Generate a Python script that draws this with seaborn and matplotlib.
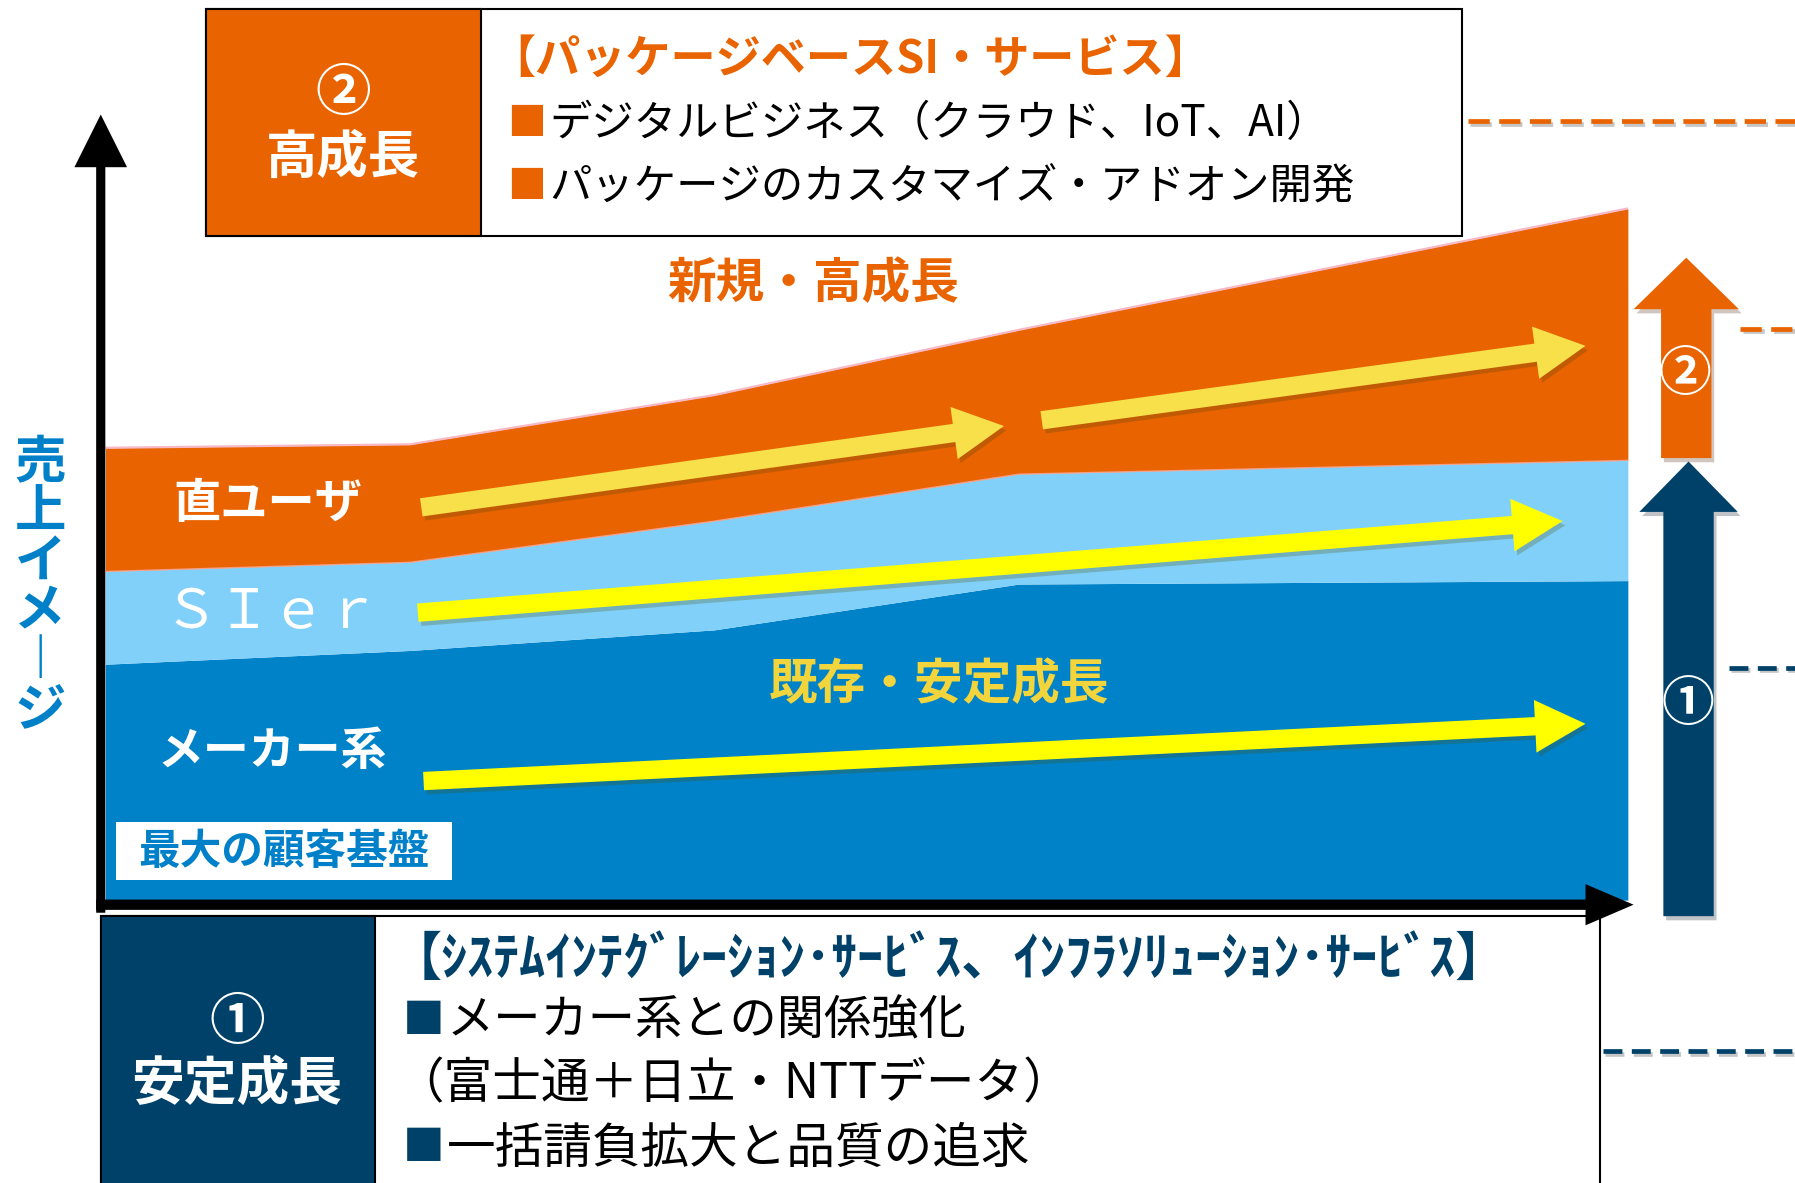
import numpy as np
import matplotlib
matplotlib.use("Agg")
import matplotlib.pyplot as plt
import matplotlib.patheffects as pe
from matplotlib.patches import Polygon, Rectangle
import seaborn as sns

# ---- data -------------------------------------------------------------
# phases along the horizontal (time) axis
periods = [0, 2, 4, 6, 10]
# sales image per channel (arbitrary units), stacked from the bottom up
maker_sales = [206, 218, 236, 276, 279]
sier_sales = [81, 77, 95, 96, 105]
direct_sales = [108, 103, 110, 126, 220]

segment_labels = ["メーカー系", "ＳＩｅｒ", "直ユーザ"]
y_axis_label = "売上イメージ"
new_growth_label = "新規・高成長"
stable_growth_label = "既存・安定成長"
customer_base_label = "最大の顧客基盤"

high_growth_mark = ["②", "高成長"]
high_growth_title = "【パッケージベースSI・サービス】"
high_growth_items = ["デジタルビジネス（クラウド、IoT、AI）",
                     "パッケージのカスタマイズ・アドオン開発"]

stable_mark = ["①", "安定成長"]
stable_title = "【ｼｽﾃﾑｲﾝﾃｸﾞﾚｰｼｮﾝ･ｻｰﾋﾞｽ、ｲﾝﾌﾗｿﾘｭｰｼｮﾝ･ｻｰﾋﾞｽ】"
stable_items = ["■", "メーカー系との関係強化", "（富士通＋日立・NTTデータ）",
                "■", "一括請負拡大と品質の追求"]

# ---- style ------------------------------------------------------------
sns.set_theme(style="white")
plt.rcParams["font.family"] = ["Noto Sans CJK JP", "DejaVu Sans"]

ORANGE = "#E96300"
LIGHT_BLUE = "#80D0FA"
BLUE = "#0082C8"
NAVY = "#00416A"
PALE_YELLOW = "#F7E04A"
YELLOW = "#FFFF00"
GOLD = "#F2D43C"
PINK = "#F7B9C6"
TEXT_BLUE = "#0080C8"

W, H = 1568, 1033
fig = plt.figure(figsize=(17.95, 11.83), dpi=100)

# ---- stacked area -----------------------------------------------------
x_left, x_right, y_base, y_top = 92, 1422, 786, 100
ax = fig.add_axes([x_left / W, 1 - y_base / H, (x_right - x_left) / W, (y_base - y_top) / H])
ax.stackplot(periods, maker_sales, sier_sales, direct_sales,
             colors=[BLUE, LIGHT_BLUE, ORANGE], linewidth=0)
lower = np.array(maker_sales) + np.array(sier_sales)
total = lower + np.array(direct_sales)
sns.lineplot(x=periods, y=total, ax=ax, color=PINK, lw=1.6, sort=False)
sns.lineplot(x=periods, y=lower, ax=ax, color=PINK, lw=0.9, sort=False, alpha=0.7)
ax.set_xlim(0, 10)
ax.set_ylim(0, y_base - y_top)
ax.axis("off")

# ---- overlay canvas for shapes and text -------------------------------
ov = fig.add_axes([0, 0, 1, 1])
ov.set_xlim(0, W)
ov.set_ylim(H, 0)
ov.axis("off")


def arrow(p0, p1, shaft, head_w, head_len, color, shadow=False, z=5):
    p0 = np.asarray(p0, float)
    p1 = np.asarray(p1, float)
    d = p1 - p0
    u = d / np.hypot(*d)
    n = np.array([-u[1], u[0]])
    neck = p1 - u * head_len
    pts = [p0 + n * shaft / 2, neck + n * shaft / 2, neck + n * head_w / 2, p1,
           neck - n * head_w / 2, neck - n * shaft / 2, p0 - n * shaft / 2]
    poly = Polygon(pts, closed=True, facecolor=color, edgecolor="none", zorder=z)
    if shadow:
        poly.set_path_effects([pe.withSimplePatchShadow(offset=(2, -3), alpha=0.25)])
    ov.add_patch(poly)


def txt(x, y, s, size, color="black", weight="normal", ha="left", **kw):
    ov.text(x, y, s, fontsize=size, color=color, fontweight=weight,
            ha=ha, va="center", zorder=10, **kw)


# axes arrows
arrow((88, 797), (88, 100), 8, 46, 46, "black", z=6)
arrow((84, 790), (1427, 790), 9, 36, 42, "black", z=6)

# growth arrows inside the area
arrow((368, 443), (877, 372), 16, 46, 44, PALE_YELLOW, shadow=True)
arrow((910, 367), (1385, 302), 16, 46, 44, PALE_YELLOW, shadow=True)
arrow((365, 535), (1365, 455), 16, 46, 44, YELLOW, shadow=True)
arrow((370, 682), (1385, 632), 16, 46, 44, YELLOW, shadow=True)

# right-hand growth arrows
arrow((1473, 400), (1473, 225), 44, 92, 45, ORANGE, shadow=True)
arrow((1475, 800), (1475, 403), 44, 86, 44, NAVY, shadow=True)
txt(1472, 327, high_growth_mark[0], 38, "white", "bold", ha="center")
txt(1474, 615, stable_mark[0], 38, "white", "bold", ha="center")

# dashed leader lines
shadow_line = [pe.SimpleLineShadow(offset=(2, -2), alpha=0.25), pe.Normal()]
ov.plot([1282, 1568], [106, 106], color=ORANGE, lw=3.4, dashes=(4.5, 2),
        path_effects=shadow_line, zorder=4)
ov.plot([1520, 1568], [287, 287], color=ORANGE, lw=3.4, dashes=(4.5, 2),
        path_effects=shadow_line, zorder=4)
ov.plot([1510, 1568], [583, 583], color=NAVY, lw=3.4, dashes=(4, 2),
        path_effects=shadow_line, zorder=4)
ov.plot([1400, 1568], [918, 918], color=NAVY, lw=3.4, dashes=(4, 2),
        path_effects=shadow_line, zorder=4)

# top box: high growth
ov.add_patch(Rectangle((180, 8), 1097, 198, facecolor="white", edgecolor="black", lw=1.5, zorder=3))
ov.add_patch(Rectangle((180, 8), 240, 198, facecolor=ORANGE, edgecolor="black", lw=1.5, zorder=3))
txt(300, 82, high_growth_mark[0], 40, "white", "bold", ha="center")
txt(300, 137, high_growth_mark[1], 37, "white", "bold", ha="center")
txt(428, 52, high_growth_title, 32.5, ORANGE, "bold")
for y, item in zip([108, 163], high_growth_items):
    txt(443, y, "■", 28, ORANGE)
    txt(480, y, item, 30.5, "black")

# bottom box: stable growth
ov.add_patch(Rectangle((88, 800), 1310, 260, facecolor="white", edgecolor="black", lw=1.5, zorder=3))
ov.add_patch(Rectangle((88, 800), 240, 260, facecolor=NAVY, edgecolor="black", lw=1.5, zorder=3))
txt(207, 893, stable_mark[0], 40, "white", "bold", ha="center")
txt(207, 947, stable_mark[1], 38, "white", "bold", ha="center")
txt(340, 838, stable_title, 37.5, NAVY, "bold")
txt(352, 892, stable_items[0], 30, NAVY)
txt(390, 892, stable_items[1], 34, "black")
txt(345, 947, stable_items[2], 35, "black")
txt(352, 1003, stable_items[3], 30, NAVY)
txt(390, 1003, stable_items[4], 35, "black")

# labels on the area
txt(710, 248, new_growth_label, 35, ORANGE, "bold", ha="center")
txt(820, 598, stable_growth_label, 35, GOLD, "bold", ha="center")
txt(234, 440, segment_labels[2], 34, "white", "bold", ha="center")
txt(237, 535, segment_labels[1], 39, "white", "normal", ha="center")
txt(238, 657, segment_labels[0], 33, "white", "bold", ha="center")

ov.add_patch(Rectangle((101, 718), 294, 50, facecolor="white", edgecolor="none", zorder=8))
txt(248, 744, customer_base_label, 30, TEXT_BLUE, "bold", ha="center")

# vertical axis title, written top to bottom
vertical_label = "\n".join(ch if ch != "ー" else "︱" for ch in y_axis_label)
txt(35, 512, vertical_label, 37, TEXT_BLUE, "bold", ha="center", linespacing=0.92)

fig.savefig("out.png", dpi=100)
